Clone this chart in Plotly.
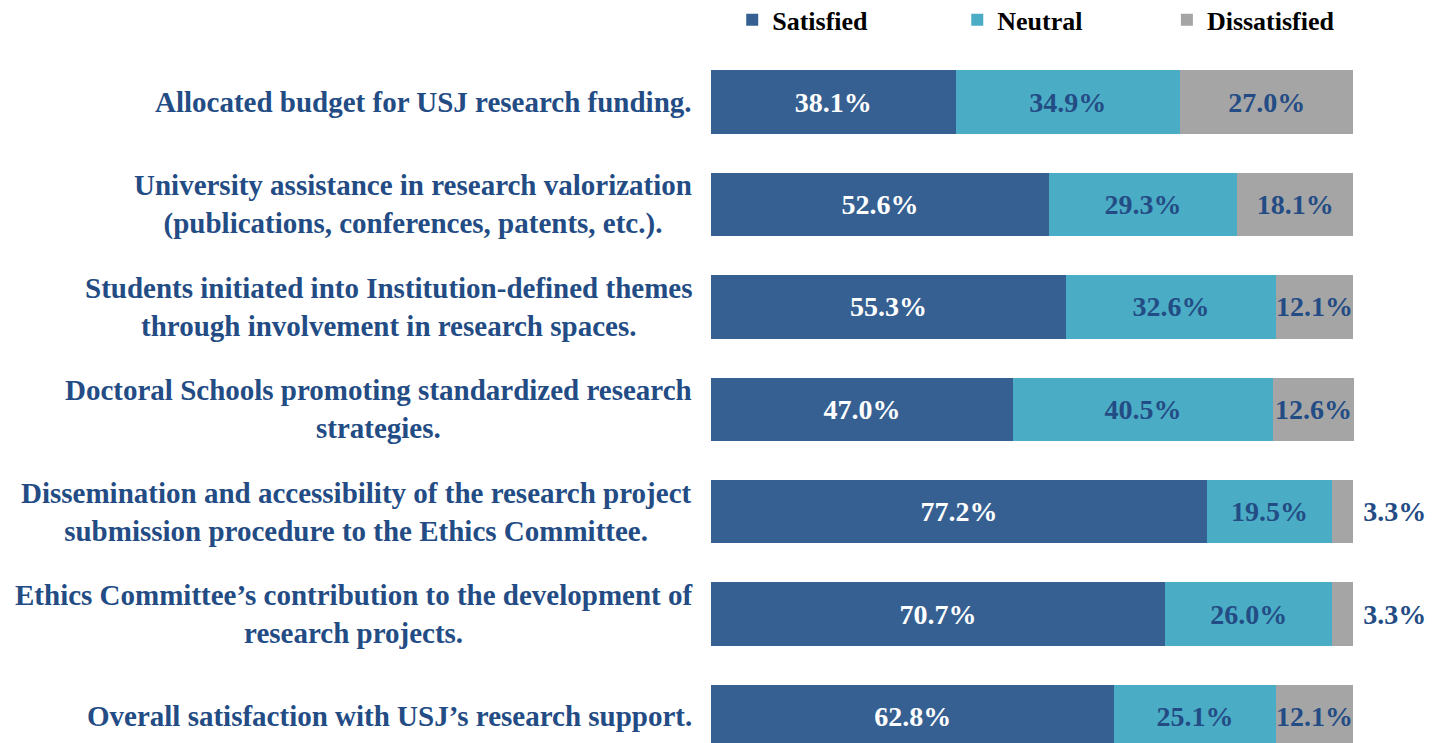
import plotly.graph_objects as go

# survey items, top to bottom
labels = [
    "Allocated budget for USJ research funding.",
    "University assistance in research valorization<br>(publications, conferences, patents, etc.).",
    "Students initiated into Institution-defined themes<br>through involvement in research spaces.",
    "Doctoral Schools promoting standardized research<br>strategies.",
    "Dissemination and accessibility of the research project<br>submission procedure to the Ethics Committee.",
    "Ethics Committee\u2019s contribution to the development of<br>research projects.",
    "Overall satisfaction with USJ\u2019s research support.",
]
keys = ["q1", "q2", "q3", "q4", "q5", "q6", "q7"]

satisfied = [38.1, 52.6, 55.3, 47.0, 77.2, 70.7, 62.8]
neutral = [34.9, 29.3, 32.6, 40.5, 19.5, 26.0, 25.1]
dissatisfied = [27.0, 18.1, 12.1, 12.6, 3.3, 3.3, 12.1]

FONT = "Liberation Serif, Times New Roman, serif"
TXT = "#234C85"
VSIZE = 28

# tiny grey segments get their label outside the bar
outside = [v < 5 for v in dissatisfied]

fig = go.Figure()

fig.add_trace(go.Bar(
    y=keys, x=satisfied, name="Satisfied", orientation="h", legend="legend",
    marker=dict(color="#366092", line=dict(width=0)),
    texttemplate="%{x:.1f}%", textposition="inside", insidetextanchor="middle",
    textangle=0, constraintext="none",
    textfont=dict(family=FONT, size=VSIZE, color="white", weight="bold"),
    cliponaxis=False, hoverinfo="skip",
))
fig.add_trace(go.Bar(
    y=keys, x=neutral, name="Neutral", orientation="h", legend="legend2",
    marker=dict(color="#4BACC6", line=dict(width=0)),
    texttemplate="%{x:.1f}%", textposition="inside", insidetextanchor="middle",
    textangle=0, constraintext="none",
    textfont=dict(family=FONT, size=VSIZE, color=TXT, weight="bold"),
    cliponaxis=False, hoverinfo="skip",
))
fig.add_trace(go.Bar(
    y=keys, x=dissatisfied, name="Dissatisfied", orientation="h", legend="legend3",
    marker=dict(color="#A5A5A5", line=dict(width=0)),
    texttemplate=["\u00a0%{x:.1f}%" if o else "%{x:.1f}%" for o in outside],
    textposition=["outside" if o else "inside" for o in outside],
    insidetextanchor="middle", textangle=0, constraintext="none",
    textfont=dict(family=FONT, size=VSIZE, color=TXT, weight="bold"),
    cliponaxis=False, hoverinfo="skip",
))

# category labels, centred lines, right edge next to the bars
for k, lab in zip(keys, labels):
    fig.add_annotation(
        x=0, xref="paper", y=k, yref="y", xanchor="right", xshift=-17,
        text=lab, align="center", showarrow=False,
        font=dict(family=FONT, size=29, color=TXT, weight="bold"),
    )

# one legend per series so the entries sit where the original has them
leg = dict(
    orientation="h", y=1.079, xanchor="left", yanchor="top",
    font=dict(family=FONT, size=26, color="black", weight="bold"),
    bgcolor="rgba(0,0,0,0)",
)

# page body adds an 8px offset, so the figure is 8px smaller than the window
fig.update_layout(
    width=1434, height=735,
    barmode="stack", bargap=0.38,
    paper_bgcolor="white", plot_bgcolor="white",
    margin=dict(l=703, r=88, t=43, b=0, autoexpand=False),
    showlegend=True,
    legend=dict(leg, x=0.033),
    legend2=dict(leg, x=0.383),
    legend3=dict(leg, x=0.709),
    xaxis=dict(range=[0, 100.1], visible=False, fixedrange=True),
    yaxis=dict(
        categoryorder="array", categoryarray=keys,
        range=[6.26, -0.5], visible=False, fixedrange=True,
    ),
)

fig.write_html("out.html")
